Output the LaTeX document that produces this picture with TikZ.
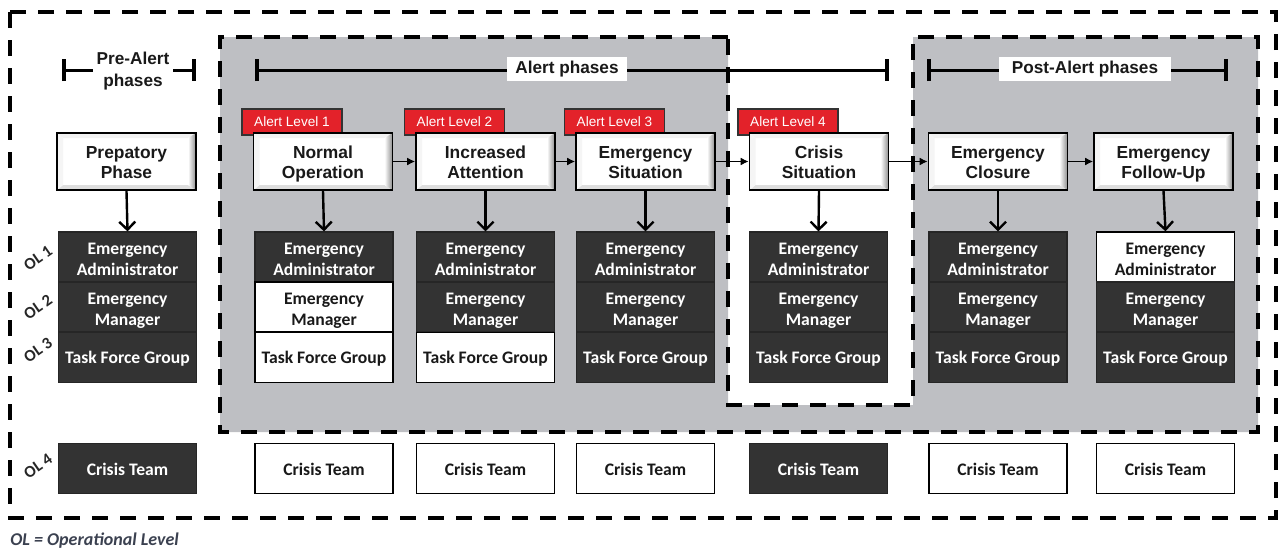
\documentclass[tikz,border=0pt]{standalone}
\usepackage{fontspec}
\setmainfont{Liberation Sans}
\newfontfamily\rolefont{Carlito}
\usetikzlibrary{arrows.meta}
\definecolor{dk}{HTML}{333333}
\definecolor{regiongray}{HTML}{BEBFC3}
\definecolor{alertred}{HTML}{E3222A}
\definecolor{legendc}{HTML}{3B4150}
\newcommand\vlow[2]{\raisebox{#1}[\height][\depth]{\begin{tabular}{@{}c@{}}#2\end{tabular}}}
\begin{document}
\begin{tikzpicture}[x=0.5pt,y=-0.5pt,
  dashpat/.style={line width=2pt, dash pattern=on 8pt off 6pt},
  phase/.style={draw=black, line width=0.8pt, fill=white, minimum width=69.5pt,
    minimum height=28.5pt, inner sep=0pt,
    font=\fontsize{8.7}{10}\selectfont\bfseries, text=black!90,
    path picture={
      \fill[black!5] (path picture bounding box.north west) -- (path picture bounding box.north east)
        -- ([xshift=-4pt,yshift=-2.5pt]path picture bounding box.north east)
        -- ([xshift=3pt,yshift=-2.5pt]path picture bounding box.north west) -- cycle;
      \fill[black!13] (path picture bounding box.south west) -- (path picture bounding box.south east)
        -- ([xshift=-4pt,yshift=2.5pt]path picture bounding box.south east)
        -- ([xshift=3pt,yshift=2.5pt]path picture bounding box.south west) -- cycle;
      \fill[black!4] (path picture bounding box.north west) -- (path picture bounding box.south west)
        -- ([xshift=3pt,yshift=2.5pt]path picture bounding box.south west)
        -- ([xshift=3pt,yshift=-2.5pt]path picture bounding box.north west) -- cycle;
      \shade[left color=white, right color=black!45]
        ([xshift=-4pt,yshift=-2.5pt]path picture bounding box.north east)
        -- (path picture bounding box.north east) -- (path picture bounding box.south east)
        -- ([xshift=-4pt,yshift=2.5pt]path picture bounding box.south east) -- cycle;
    }},
  alertlab/.style={fill=alertred, draw=black!80, line width=0.6pt, text=white,
    font=\fontsize{6.8}{8}\selectfont, minimum width=50pt, minimum height=13pt, inner sep=0pt},
  role/.style={minimum width=69pt, minimum height=25pt, inner sep=0pt,
    font=\rolefont\bfseries\fontsize{8.8}{10.5}\selectfont},
  dcell/.style={role, fill=dk, draw=black!85, line width=0.6pt, text=white},
  wcell/.style={role, fill=white, draw=black, line width=0.7pt, text=black!90},
  bracket/.style={line width=1.5pt, {Bar[width=11pt,line width=2pt]}-{Bar[width=11pt,line width=2pt]}},
  brlabel/.style={fill=white, inner sep=2pt, align=center, font=\fontsize{8.6}{11}\selectfont\bfseries, text=black!90},
  downarr/.style={line width=1.2pt, -{Straight Barb[length=4pt,width=8pt,line width=1.2pt]}},
  harr/.style={line width=0.9pt, -{Latex[length=4pt,width=4pt]}},
  ollab/.style={font=\rolefont\bfseries\fontsize{8.3}{9}\selectfont, text=black!85, inner sep=0pt, rotate=35}
]
\useasboundingbox (0,0) rectangle (1285,552);

% regions
\fill[regiongray] (220,37) -- (728,37) -- (728,405) -- (913,405) -- (913,37) -- (1258,37)
  -- (1258,432) -- (220,432) -- cycle;
\draw[dashpat] (728,37) -- (220,37) -- (220,432) -- (1258,432) -- (1258,37) -- (913,37)
  -- (913,405) -- (728,405) -- cycle;
\draw[dashpat] (10,12) rectangle (1276,518);

% brackets
\coordinate (preL) at (62,70); \coordinate (preR) at (196,70);
\coordinate (alL) at (255,70); \coordinate (alR) at (889,70);
\coordinate (poL) at (927,70); \coordinate (poR) at (1228,70);
\draw[bracket] (preL) -- (preR);
\draw[bracket] (alL) -- (alR);
\draw[bracket] (poL) -- (poR);
\node[brlabel] (preT) at (133,71) {Pre-Alert\\phases};
\node[brlabel, minimum width=60pt] (alT) at (567,69) {Alert phases};
\node[brlabel, minimum width=86pt] (poT) at (1085,69) {Post-Alert phases};

% alert level labels
\node[alertlab] (L1) at (292,122) {Alert Level 1};
\node[alertlab] (L2) at (454.5,122) {Alert Level 2};
\node[alertlab] (L3) at (614.5,122) {Alert Level 3};
\node[alertlab] (L4) at (788,122) {Alert Level 4};

% phases
\node[phase] (P1) at (126.5,161.5) {\vlow{-1.4pt}{Prepatory\\Phase}};
\node[phase] (P2) at (323,161.5) {\vlow{-1.4pt}{Normal\\Operation}};
\node[phase] (P3) at (485.5,161.5) {\vlow{-1.4pt}{Increased\\Attention}};
\node[phase] (P4) at (645.5,161.5) {\vlow{-1.4pt}{Emergency\\Situation}};
\node[phase] (P5) at (819,161.5) {\vlow{-1.4pt}{Crisis\\Situation}};
\node[phase] (P6) at (998,161.5) {\vlow{-1.4pt}{Emergency\\Closure}};
\node[phase] (P7) at (1163.5,161.5) {\vlow{-1.4pt}{Emergency\\Follow-Up}};

\draw[harr] (P2.east) -- (P3.west);
\draw[harr] (P3.east) -- (P4.west);
\draw[harr] (P4.east) -- (P5.west);
\draw[harr] (P5.east) -- (P6.west);
\draw[harr] (P6.east) -- (P7.west);

% role stacks
\foreach \i/\x/\a/\m/\t/\c in {1/127.5/dcell/dcell/dcell/dcell, 2/324/dcell/wcell/wcell/wcell,
  3/485.5/dcell/dcell/wcell/wcell, 4/645.5/dcell/dcell/dcell/wcell,
  5/818.5/dcell/dcell/dcell/dcell, 6/998/dcell/dcell/dcell/wcell,
  7/1165.5/wcell/dcell/dcell/wcell}{
  \node[\a] (A\i) at (\x,257) {\vlow{-1.75pt}{Emergency\\Administrator}};
  \node[\m] (M\i) at (\x,307) {\vlow{-1.75pt}{Emergency\\Manager}};
  \node[\t] (T\i) at (\x,357.5) {\vlow{-1.1pt}{Task Force Group}};
  \node[\c] (C\i) at (\x,468.5) {\vlow{-1.3pt}{Crisis Team}};
  \draw[downarr] (P\i.south) -- (A\i.north);
}

% OL labels
\node[ollab] (ol1) at (38,258) {OL 1};
\node[ollab] (ol2) at (38,307) {OL 2};
\node[ollab] (ol3) at (38,350) {OL 3};
\node[ollab] (ol4) at (38,466) {OL 4};

\node[anchor=west, inner sep=0pt, text=legendc,
  font=\rolefont\bfseries\itshape\fontsize{9}{10}\selectfont] (legend) at (10,541) {OL = Operational Level};
\end{tikzpicture}
\end{document}
